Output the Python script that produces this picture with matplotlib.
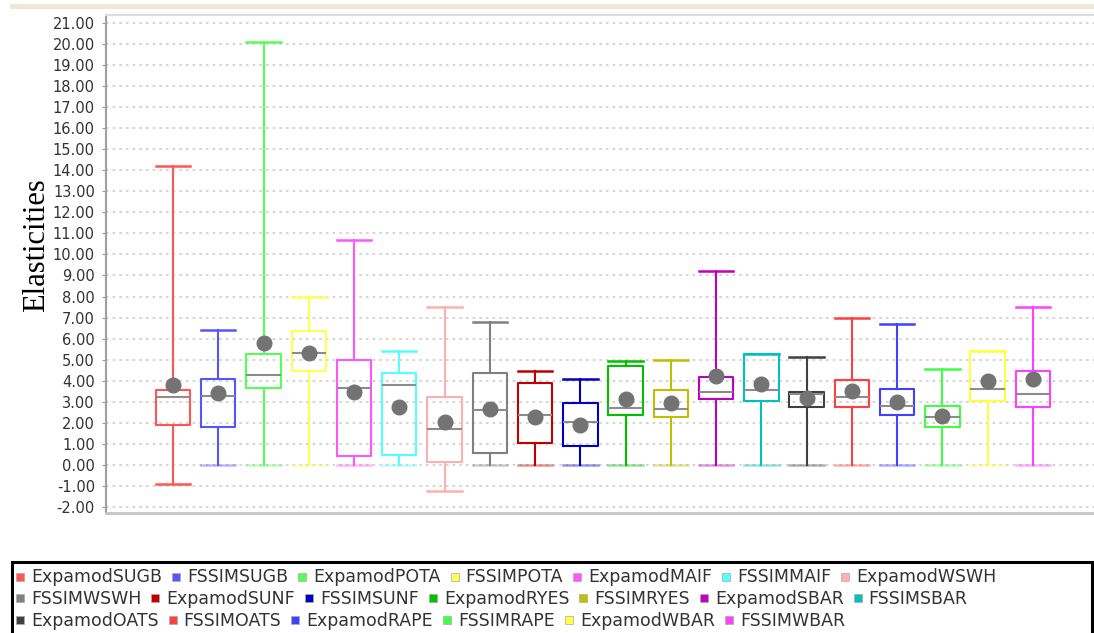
import matplotlib
matplotlib.use("Agg")
import matplotlib.pyplot as plt
from matplotlib.patches import Rectangle

# series names, in plot order
labels = ["ExpamodSUGB", "FSSIMSUGB", "ExpamodPOTA", "FSSIMPOTA", "ExpamodMAIF",
          "FSSIMMAIF", "ExpamodWSWH", "FSSIMWSWH", "ExpamodSUNF", "FSSIMSUNF",
          "ExpamodRYES", "FSSIMRYES", "ExpamodSBAR", "FSSIMSBAR", "ExpamodOATS",
          "FSSIMOATS", "ExpamodRAPE", "FSSIMRAPE", "ExpamodWBAR", "FSSIMWBAR"]

# box statistics
whishi = [14.20, 6.41, 20.11, 7.97, 10.68, 5.40, 7.52, 6.79, 4.44, 4.10,
          4.92, 4.98, 9.19, 5.27, 5.14, 6.97, 6.71, 4.57, 5.40, 7.51]
q3 = [3.56, 4.08, 5.27, 6.38, 5.00, 4.35, 3.24, 4.35, 3.87, 2.94,
      4.68, 3.57, 4.17, 5.27, 3.48, 4.03, 3.60, 2.79, 5.40, 4.44]
med = [3.20, 3.25, 4.27, 5.32, 3.65, 3.81, 1.68, 2.60, 2.37, 2.02,
       2.70, 2.67, 3.48, 3.57, 3.37, 3.24, 2.81, 2.25, 3.60, 3.37]
q1 = [1.90, 1.81, 3.65, 4.44, 0.41, 0.48, 0.13, 0.56, 1.03, 0.90,
      2.37, 2.26, 3.13, 3.05, 2.73, 2.75, 2.37, 1.81, 3.01, 2.76]
whislo = [-0.92, 0.00, 0.00, 0.00, 0.00, 0.00, -1.24, 0.00, 0.00, 0.00,
          0.00, 0.00, 0.00, 0.00, 0.00, 0.00, 0.00, 0.00, 0.00, 0.00]
means = [3.81, 3.40, 5.79, 5.33, 3.48, 2.73, 2.02, 2.63, 2.25, 1.89,
         3.13, 2.92, 4.24, 3.84, 3.18, 3.52, 3.00, 2.33, 4.00, 4.08]

yticks = list(range(-2, 22))

colors = ["#FF5555", "#5555FF", "#55FF55", "#FFFF55", "#FF55FF", "#55FFFF",
          "#FFAFAF", "#808080", "#C00000", "#0000C0", "#00C000", "#C0C000",
          "#C000C0", "#00C0C0", "#404040", "#FF4040", "#4040FF", "#40FF40",
          "#FFFF40", "#FF40FF"]

legend_rows = [labels[0:7], labels[7:14], labels[14:20]]

W, H = 1094, 633
fig = plt.figure(figsize=(W / 100, H / 100), dpi=100)


def px(x, y):
    return x / W, 1 - y / H


# beige band on top
fig.patches.append(Rectangle(px(10, 9), (W - 10) / W, 5 / H, transform=fig.transFigure,
                             facecolor="#EDE8DA", edgecolor="none"))

ax = fig.add_axes([106 / W, 1 - 513 / H, (1094 - 106) / W, (513 - 15) / H])

stats = []
for i in range(len(labels)):
    stats.append(dict(label=labels[i], whislo=whislo[i], q1=q1[i], med=med[i],
                      q3=q3[i], whishi=whishi[i], mean=means[i], fliers=[]))

bp = ax.bxp(stats, positions=range(len(labels)), widths=0.76, capwidths=0.76,
            showmeans=True, patch_artist=False,
            meanprops=dict(marker="o", markerfacecolor="#737373",
                           markeredgecolor="#737373", markersize=10.5),
            medianprops=dict(color="#8C8C8C", linewidth=1.5))

for i, c in enumerate(colors):
    bp["boxes"][i].set(color=c, linewidth=1.5)
    bp["whiskers"][2 * i].set(color=c, linewidth=1.5)
    bp["whiskers"][2 * i + 1].set(color=c, linewidth=1.5)
    lo_cap = bp["caps"][2 * i]
    hi_cap = bp["caps"][2 * i + 1]
    hi_cap.set(color=c, linewidth=1.8)
    lo_cap.set(color=c, linewidth=1.8)
    if whislo[i] == 0:
        lo_cap.set_alpha(0.4)

ax.set_xlim(-1.48, 20.35)
ax.set_ylim(-2.29, 21.38)
ax.set_xticks([])
ax.set_yticks(yticks)
ax.set_yticklabels([f"{v:.2f}" for v in yticks], fontsize=10.5,
                   family="DejaVu Sans", color="#333333")
ax.tick_params(axis="y", length=3, color="#999999", pad=5)
ax.grid(axis="y", linestyle=(0, (1.5, 2.5)), color="#CCCCCC", linewidth=1.2)
ax.set_axisbelow(True)

ax.spines["right"].set_visible(False)
ax.spines["left"].set_color("#A0A0A0")
ax.spines["left"].set_linewidth(1.5)
ax.spines["bottom"].set_color("#C4C4C4")
ax.spines["bottom"].set_linewidth(2)
ax.spines["top"].set_color("#DDDDDD")
ax.spines["top"].set_linewidth(1.5)

fig.text(37 / W, 1 - 245 / H, "Elasticities", rotation=90, ha="center", va="center",
         family="Liberation Serif", fontsize=22, color="black")

# legend frame
fig.patches.append(Rectangle(px(12, 680), (1092 - 12) / W, (680 - 562) / H,
                             transform=fig.transFigure, facecolor="none",
                             edgecolor="black", linewidth=2.2))

fig.canvas.draw()
renderer = fig.canvas.get_renderer()
row_y = [577, 598, 620]
for r, row in enumerate(legend_rows):
    x = 16
    for name in row:
        c = colors[labels.index(name)]
        fig.patches.append(Rectangle(px(x, row_y[r] + 4), 8 / W, 8 / H,
                                     transform=fig.transFigure, facecolor=c,
                                     edgecolor="#AAAAAA", linewidth=0.5))
        t = fig.text(*px(x + 15, row_y[r] + 0.5), name, ha="left", va="center",
                     family="DejaVu Sans", fontsize=12.5, color="#333333")
        x = x + 15 + t.get_window_extent(renderer).width + 10

fig.savefig("out.png", dpi=100)
